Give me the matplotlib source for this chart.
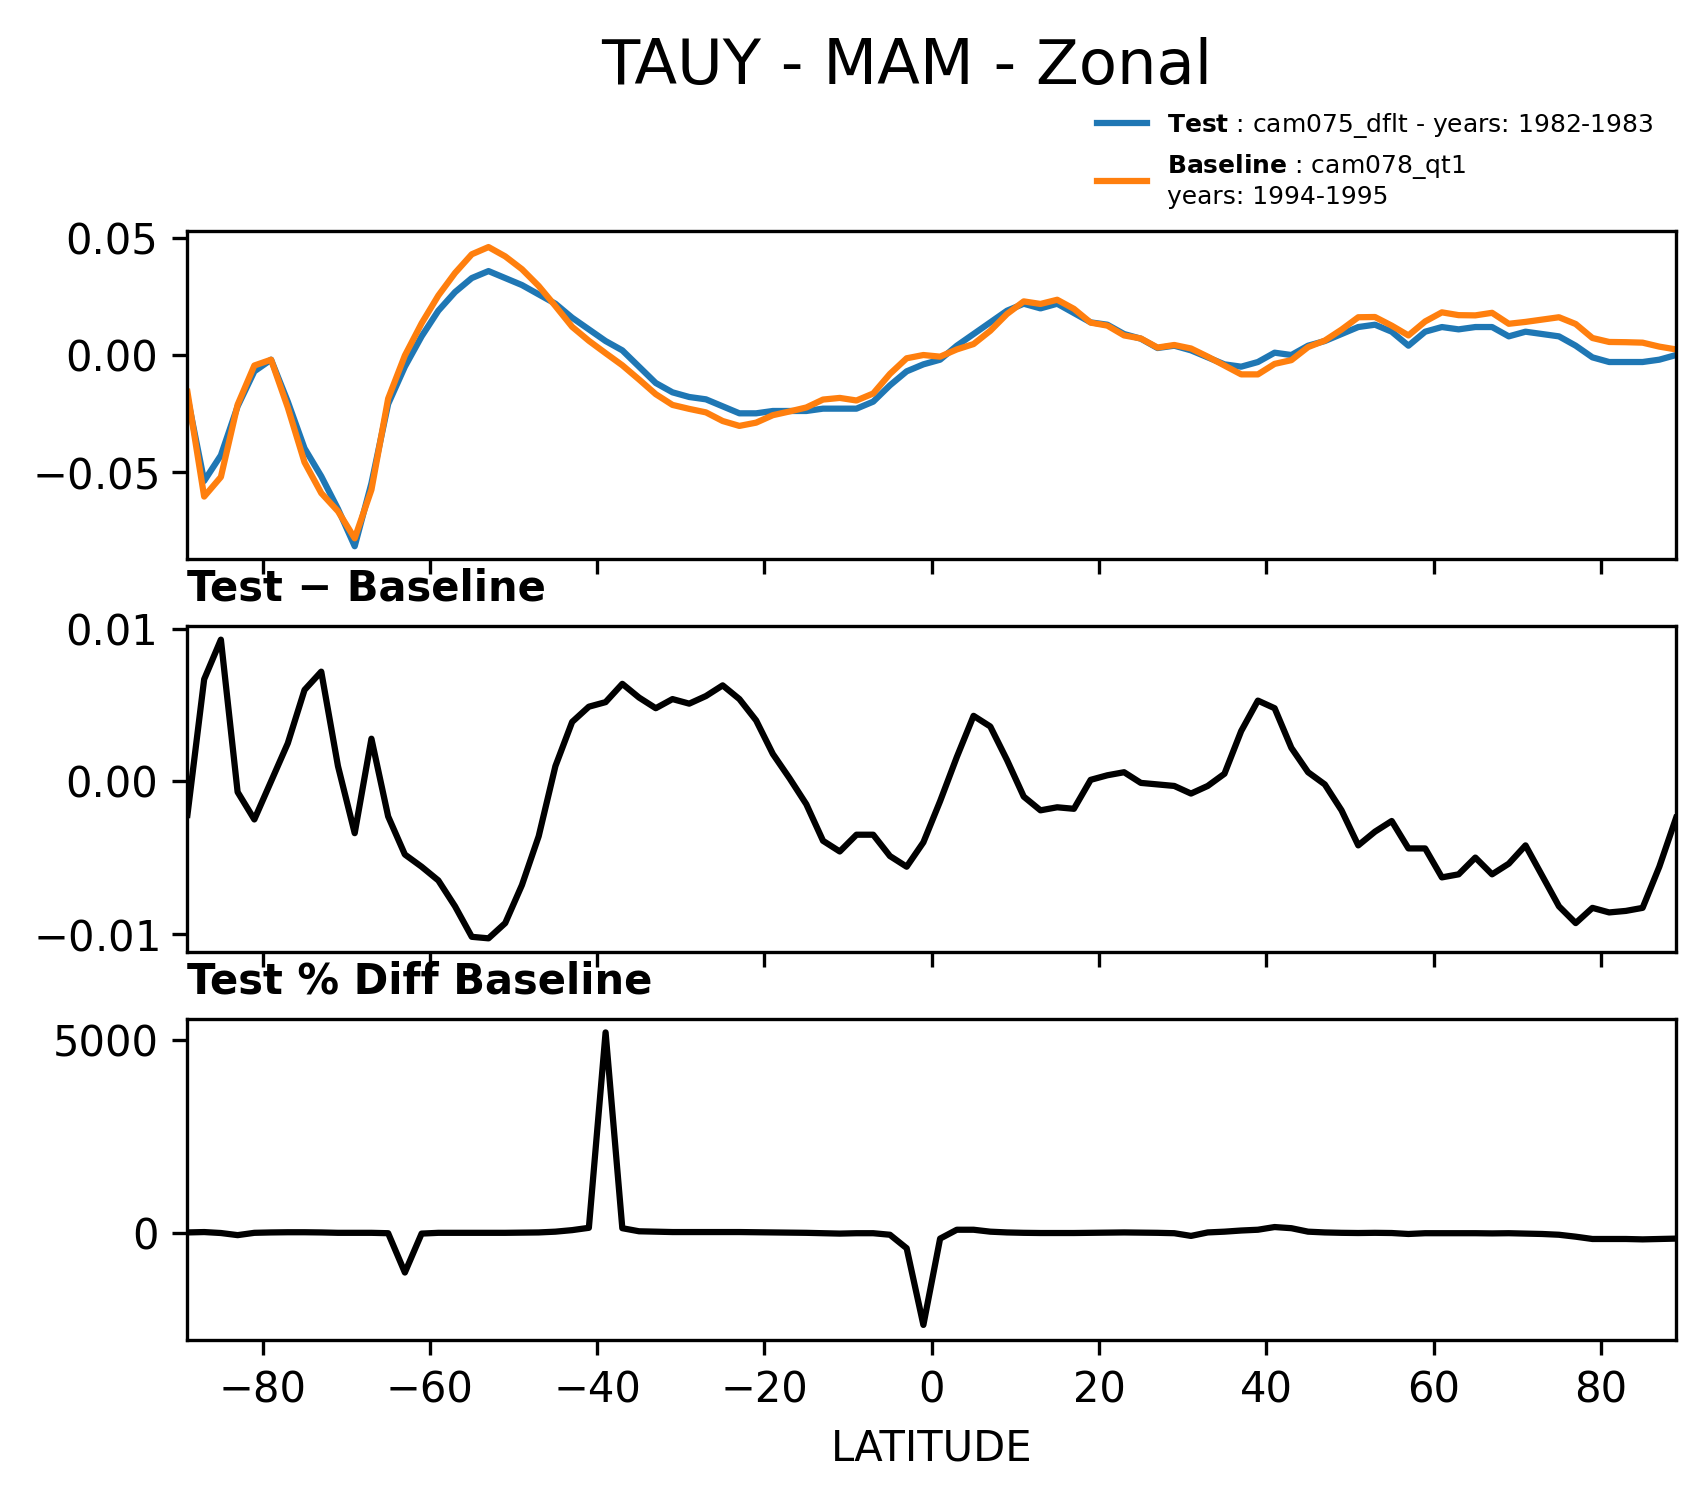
import numpy as np
import matplotlib
matplotlib.use("Agg")
import matplotlib.pyplot as plt

lat = np.arange(-89, 90, 2)
test = [-0.018,-0.054,-0.043,-0.022,-0.007,-0.002,-0.020,-0.040,-0.052,-0.066,-0.082,-0.055,-0.021,-0.005,0.008,0.019,0.027,0.033,0.036,0.033,
        0.030,0.026,0.022,0.016,0.011,0.006,0.002,-0.005,-0.012,-0.016,-0.018,-0.019,-0.022,-0.025,-0.025,-0.024,-0.024,-0.024,-0.023,-0.023,
        -0.023,-0.020,-0.013,-0.007,-0.004,-0.002,0.004,0.009,0.014,0.019,0.022,0.020,0.022,0.018,0.014,0.013,0.009,0.007,0.003,0.004,
        0.002,-0.001,-0.004,-0.005,-0.003,0.001,0.000,0.004,0.006,0.009,0.012,0.013,0.010,0.004,0.010,0.012,0.011,0.012,0.012,0.008,
        0.010,0.009,0.008,0.004,-0.001,-0.003,-0.003,-0.003,-0.002,0.000]
diff = [-0.0022,0.0067,0.0093,-0.0007,-0.0025,0.0000,0.0025,0.0060,0.0072,0.0010,-0.0034,0.0028,-0.0023,-0.0048,-0.0056,-0.0065,-0.0082,-0.0102,-0.0103,-0.0093,
        -0.0068,-0.0036,0.0010,0.0039,0.0049,0.0052,0.0064,0.0055,0.0048,0.0054,0.0051,0.0056,0.0063,0.0054,0.0040,0.0018,0.0002,-0.0015,-0.0039,-0.0046,
        -0.0035,-0.0035,-0.0049,-0.0056,-0.0040,-0.0013,0.0016,0.0043,0.0036,0.0014,-0.0010,-0.0019,-0.0017,-0.0018,0.0001,0.0004,0.0006,-0.0001,-0.0002,-0.0003,
        -0.0008,-0.0003,0.0005,0.0033,0.0053,0.0048,0.0022,0.0006,-0.0002,-0.0019,-0.0042,-0.0033,-0.0026,-0.0044,-0.0044,-0.0063,-0.0061,-0.0050,-0.0061,-0.0054,
        -0.0042,-0.0062,-0.0082,-0.0093,-0.0083,-0.0086,-0.0085,-0.0083,-0.0056,-0.0024]
pct = [10,20,-5,-60,0,10,15,15,10,0,0,0,-10,-1030,-20,0,0,0,0,
       0,5,10,30,70,130,5200,120,40,30,20,20,20,20,20,15,10,5,0,-10,
       -20,-10,-10,-50,-400,-2390,-150,80,80,30,10,0,-5,-5,-5,0,5,10,5,0,
       -10,-80,10,30,60,80,150,120,30,10,0,-5,0,-5,-30,-10,-10,-10,-10,-15,
       -10,-20,-30,-50,-100,-160,-160,-160,-170,-160,-150]
base = (np.array(test) - np.array(diff)).tolist()

fig = plt.figure(figsize=(1704/300, 1496/300), dpi=300)
L, W = 0.110, 0.8736
ax1 = fig.add_axes([L, 0.6263, W, 0.219])
ax2 = fig.add_axes([L, 0.3636, W, 0.218])
ax3 = fig.add_axes([L, 0.1043, W, 0.2146])

ax1.plot(lat, test, color='#1f77b4', lw=1.5, label=r'$\bf{Test}$ : cam075_dflt - years: 1982-1983')
ax1.plot(lat, base, color='#ff7f0e', lw=1.5, label=r'$\bf{Baseline}$ : cam078_qt1' + '\nyears: 1994-1995')
ax1.set_ylim(-0.0875, 0.053)
ax1.set_yticks([-0.05, 0, 0.05])
ax1.set_yticklabels([r'$-0.05$', '0.00', '0.05'])
ax1.legend(loc='lower right', bbox_to_anchor=(1.0, 1.0), frameon=False, fontsize=6)

ax2.plot(lat, diff, color='k', lw=1.5)
ax2.set_ylim(-0.0112, 0.0102)
ax2.set_yticks([-0.01, 0, 0.01])
ax2.set_yticklabels([r'$-0.01$', '0.00', '0.01'])
ax2.set_title('Test − Baseline', loc='left', fontweight='bold', fontsize=10)

ax3.plot(lat, pct, color='k', lw=1.5)
ax3.set_ylim(-2780, 5550)
ax3.set_yticks([0, 5000])
ax3.set_title('Test % Diff Baseline', loc='left', fontweight='bold', fontsize=10)
ax3.set_xlabel('LATITUDE')

for ax in (ax1, ax2, ax3):
    ax.set_xlim(-89, 89)
    ax.set_xticks(np.arange(-80, 81, 20))
for ax in (ax1, ax2):
    ax.set_xticklabels([])

fig.suptitle('TAUY - MAM - Zonal', fontsize=15, x=0.532, y=0.975)
fig.savefig('out.png', dpi=300)
